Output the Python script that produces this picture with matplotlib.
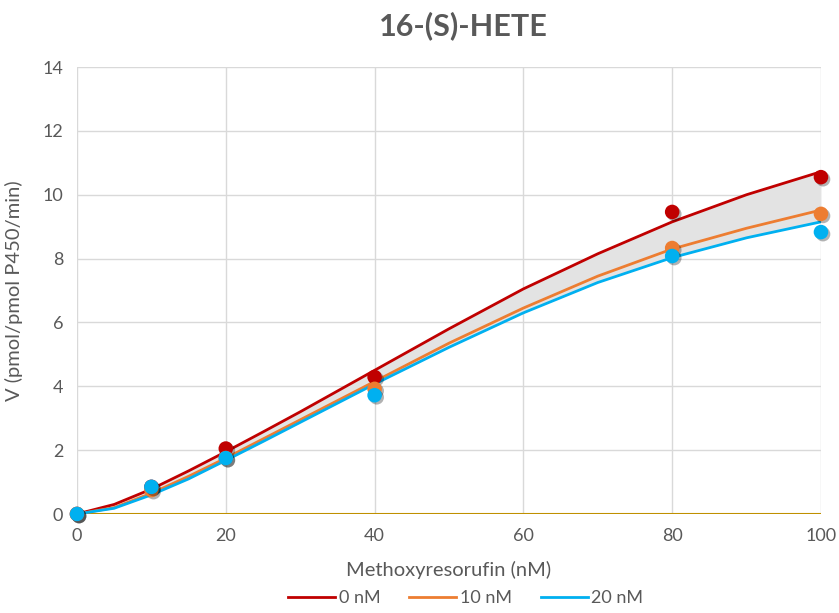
import numpy as np
import matplotlib
matplotlib.use("Agg")
import matplotlib.pyplot as plt
import matplotlib.patheffects as pe

plt.rcParams['font.family'] = ['Lato', 'DejaVu Sans']

# measured points
x_pts = [0, 10, 20, 40, 80, 100]
v_0nM = [0, 0.85, 2.05, 4.29, 9.46, 10.55]
v_10nM = [0, 0.75, 1.75, 3.92, 8.33, 9.40]
v_20nM = [0, 0.85, 1.75, 3.72, 8.08, 8.83]

# fitted curves
x_fit = [0, 5, 10, 15, 20, 25, 30, 35, 40, 50, 60, 70, 80, 90, 100]
fit_0nM = [0, 0.30, 0.78, 1.35, 1.95, 2.57, 3.20, 3.85, 4.50, 5.80, 7.05, 8.15, 9.15, 10.00, 10.72]
fit_10nM = [0, 0.20, 0.65, 1.18, 1.75, 2.35, 2.95, 3.55, 4.15, 5.35, 6.45, 7.45, 8.30, 8.95, 9.52]
fit_20nM = [0, 0.18, 0.60, 1.10, 1.68, 2.27, 2.87, 3.47, 4.07, 5.22, 6.30, 7.25, 8.03, 8.65, 9.15]

labels = ['0 nM', '10 nM', '20 nM']
colors = ['#C00000', '#ED7D31', '#00B0F0']
grey = '#595959'

fig = plt.figure(figsize=(8.39, 6.13), dpi=100)
ax = fig.add_axes([0.0918, 0.1615, 0.8867, 0.7292])

# grey band between the 0 nM and 20 nM curves
xs = np.linspace(0, 100, 201)
ax.fill_between(xs, np.interp(xs, x_fit, fit_0nM), np.interp(xs, x_fit, fit_20nM),
                color='#E3E3E3', lw=0, zorder=2)

for fy, c, lab in zip([fit_0nM, fit_10nM, fit_20nM], colors, labels):
    ax.plot(x_fit, fy, color=c, lw=2, label=lab, zorder=3)

# baseline
ax.plot([0, 100], [0, 0], color='#BF9000', lw=1.5, zorder=2.5)

shadow = [pe.SimplePatchShadow(offset=(1.5, -1.5), shadow_rgbFace='black', alpha=0.3), pe.Normal()]
for py, c in zip([v_0nM, v_10nM, v_20nM], colors):
    ax.scatter(x_pts, py, s=110, color=c, zorder=4, linewidths=0, path_effects=shadow, clip_on=False)

ax.set_xlim(0, 100)
ax.set_ylim(0, 14)
ax.set_xticks(range(0, 101, 20))
ax.set_yticks(range(0, 15, 2))
ax.grid(True, color='#D9D9D9', lw=1, zorder=0)
ax.set_axisbelow(True)
for s in ax.spines.values():
    s.set_visible(False)
ax.tick_params(length=0, labelsize=13, colors=grey, pad=10)

ax.set_xlabel('Methoxyresorufin (nM)', fontsize=14.5, color=grey, labelpad=12)
ax.set_ylabel('V (pmol/pmol P450/min)', fontsize=14.5, color=grey, labelpad=14)
fig.text(0.552, 0.958, '16-(S)-HETE', fontsize=22, fontweight='bold', color=grey,
         ha='center', va='center')

leg = fig.legend(handles=ax.get_lines()[:3], loc='lower center', bbox_to_anchor=(0.555, -0.015),
                 ncol=3, frameon=False, fontsize=13, handlelength=2.6, columnspacing=1.6,
                 handletextpad=0.2)
for t in leg.get_texts():
    t.set_color(grey)

fig.savefig('out.png', dpi=100)
